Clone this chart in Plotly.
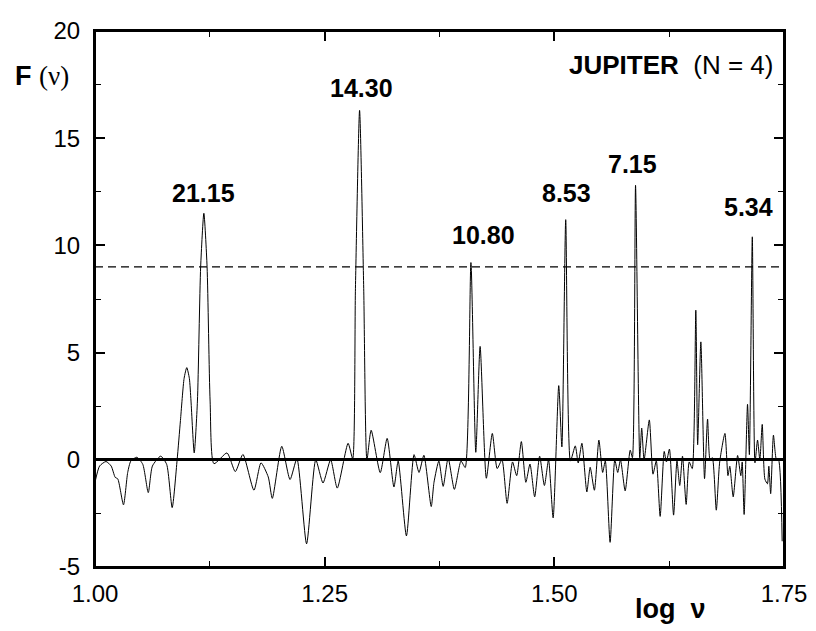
import plotly.graph_objects as go

# log(nu) positions and F(nu) values
log_nu = [
    1.000, 1.005, 1.012, 1.0176, 1.022, 1.0248, 1.031, 1.0356, 1.039, 1.0456,
    1.052, 1.058, 1.0625, 1.0715, 1.078, 1.084, 1.0894, 1.093, 1.0970, 1.0999,
    1.1027, 1.1045, 1.108, 1.1115, 1.1150, 1.1185, 1.1220, 1.1253, 1.1295, 1.1437,
    1.1527, 1.161, 1.173, 1.1807, 1.1886, 1.193, 1.2033, 1.2123, 1.2198, 1.2303,
    1.2403, 1.2482, 1.2565, 1.2637, 1.2755, 1.2805, 1.2835, 1.288, 1.2925, 1.296,
    1.3006, 1.3105, 1.318, 1.3254, 1.330, 1.339, 1.3473, 1.3527, 1.358, 1.366,
    1.369, 1.3743, 1.379, 1.3844, 1.3912, 1.3984, 1.403, 1.4092, 1.4145, 1.4192,
    1.426, 1.4325, 1.4378, 1.443, 1.4486, 1.4545, 1.4590, 1.4641, 1.469, 1.4735,
    1.4786, 1.4840, 1.4892, 1.4937, 1.4987, 1.5048, 1.5082, 1.5124, 1.5175, 1.5228,
    1.526, 1.530, 1.5354, 1.539, 1.5436, 1.5485, 1.5526, 1.5555, 1.5607, 1.5658,
    1.569, 1.572, 1.5771, 1.5826, 1.585, 1.5884, 1.593, 1.5951, 1.5977, 1.6034,
    1.6074, 1.611, 1.6152, 1.6196, 1.622, 1.6253, 1.6298, 1.6335, 1.6365, 1.6395,
    1.6435, 1.6468, 1.6501, 1.654, 1.656, 1.6595, 1.6635, 1.6668, 1.6695, 1.672,
    1.6763, 1.680, 1.6857, 1.689, 1.691, 1.6947, 1.6995, 1.7030, 1.7045, 1.7066,
    1.7103, 1.7123, 1.7155, 1.7184, 1.7212, 1.7237, 1.7263, 1.7292, 1.732, 1.7335,
    1.7355, 1.7385, 1.7418, 1.744, 1.748,
]
F_nu = [
    -1.05, -0.29, -0.08, -0.29, -0.82, -0.89, -2.10, -0.59, -0.06, 0.12,
    -0.21, -1.53, -0.29, 0.17, -0.21, -2.23, 0.00, 1.83, 3.80, 4.30,
    3.80, 2.74, 0.32, 2.74, 9.00, 11.50, 9.00, 2.74, -0.18, 0.32,
    -0.55, 0.25, -1.42, -0.14, -0.80, -1.80, 0.63, -0.92, 0.05, -3.92,
    0.00, -1.08, 0.00, -1.32, 0.77, 0.05, 8.00, 16.30, 8.00, 0.00,
    1.38, -0.60, 1.00, -1.27, -0.06, -3.55, 0.24, -0.59, 0.21, -2.18,
    -1.05, -0.06, -1.24, 0.08, -1.38, -0.06, -0.36, 9.20, 0.35, 5.29,
    -0.86, 1.23, -0.41, 0.00, -2.03, -0.10, -0.74, 0.85, -1.05, -0.20,
    -1.73, 0.17, -1.20, 0.00, -2.71, 3.46, 0.60, 11.20, -0.06, 0.65,
    -0.15, 0.77, -1.50, -0.35, -1.42, 0.92, -0.59, -0.05, -3.85, 0.00,
    -0.59, 0.00, -1.45, 0.45, 0.10, 12.80, 0.09, 1.48, 0.00, 1.86,
    -0.67, -0.05, -2.64, 0.39, -0.10, 0.50, -2.58, -0.05, -1.20, 0.17,
    -2.08, -0.10, -0.41, 6.98, 0.70, 5.50, -0.88, 1.90, 0.00, 0.10,
    -2.35, -0.10, 1.23, -0.74, -0.30, -1.73, 0.20, -0.74, -0.10, -2.55,
    2.59, 0.24, 10.40, -0.14, 0.92, 0.00, 1.65, -0.90, -1.12, -0.30,
    -1.58, 1.15, 0.00, 0.00, -3.80,
]

threshold = 9.0

peak_labels = ["21.15", "14.30", "10.80", "8.53", "7.15", "5.34"]
peak_label_x = [1.1185, 1.290, 1.4224, 1.513, 1.5855, 1.7112]
peak_label_y = [12.45, 17.36, 10.5, 12.45, 13.8, 11.8]

x_ticks = [1.00, 1.25, 1.50, 1.75]
x_ticktext = ["1.00", "1.25", "1.50", "1.75"]
y_ticks = [-5, 0, 5, 10, 15, 20]
y_ticktext = ["-5", "0", "5", "10", "15", "20"]

FONT = "Liberation Sans, Arial, sans-serif"

fig = go.Figure()
fig.add_trace(go.Scatter(
    x=log_nu, y=F_nu, mode="lines",
    line=dict(color="black", width=1, shape="spline", smoothing=0.6),
    showlegend=False, hoverinfo="skip",
))

fig.add_shape(type="line", xref="paper", yref="y", x0=0, x1=1,
              y0=threshold, y1=threshold,
              line=dict(color="black", width=1.2, dash="8px,5px"))

# frame around the plotting area
fig.add_shape(type="rect", xref="paper", yref="paper", x0=0, x1=1, y0=0, y1=1,
              line=dict(color="black", width=2), fillcolor="rgba(0,0,0,0)",
              layer="above")

for t, xx, yy in zip(peak_labels, peak_label_x, peak_label_y):
    fig.add_annotation(x=xx, y=yy, xref="x", yref="y", text="<b>%s</b>" % t,
                       showarrow=False, font=dict(family=FONT, size=25, color="black"),
                       xanchor="center", yanchor="middle")

fig.add_annotation(xref="paper", yref="paper", x=0.987, y=0.9364,
                   text="<b>JUPITER</b>  (N = 4)", showarrow=False,
                   font=dict(family=FONT, size=26, color="black"),
                   xanchor="right", yanchor="middle")

fig.add_annotation(xref="paper", yref="paper", x=-0.0762, y=0.9164,
                   text="<b>F</b> <span style='font-family:Liberation Serif'>(ν)</span>",
                   showarrow=False, font=dict(family=FONT, size=27, color="black"),
                   xanchor="center", yanchor="middle")

fig.add_annotation(xref="paper", yref="paper", x=0.8348, y=-0.078,
                   text="<b>log  ν</b>", showarrow=False,
                   font=dict(family=FONT, size=27, color="black"),
                   xanchor="center", yanchor="middle")

axis_common = dict(
    showline=True, linecolor="black", linewidth=2, mirror="ticks",
    ticks="inside", ticklen=10, tickwidth=1.5, tickcolor="black",
    showgrid=False, tickfont=dict(family=FONT, size=24, color="black"),
    ticklabeloverflow="allow",
)

fig.update_xaxes(range=[1.0, 1.75], tickvals=x_ticks, ticktext=x_ticktext,
                 zeroline=False, ticklabelstandoff=4,
                 minor=dict(ticks="inside", dtick=0.125, tick0=1.0, ticklen=6,
                            tickwidth=1.2, tickcolor="black", showgrid=False),
                 **axis_common)
fig.update_yaxes(range=[-5, 20], tickvals=y_ticks, ticktext=y_ticktext,
                 zeroline=True, zerolinecolor="black", zerolinewidth=2.5,
                 ticklabelstandoff=8,
                 minor=dict(ticks="inside", dtick=2.5, tick0=0, ticklen=6,
                            tickwidth=1.2, tickcolor="black", showgrid=False),
                 **axis_common)

# The page body has an 8px default margin, so the figure is sized to fit the window
fig.update_layout(
    width=808, height=623,
    margin=dict(l=87, r=25, t=9, b=64),
    paper_bgcolor="white", plot_bgcolor="white",
    font=dict(family=FONT, color="black"),
)

fig.write_html("out.html")
